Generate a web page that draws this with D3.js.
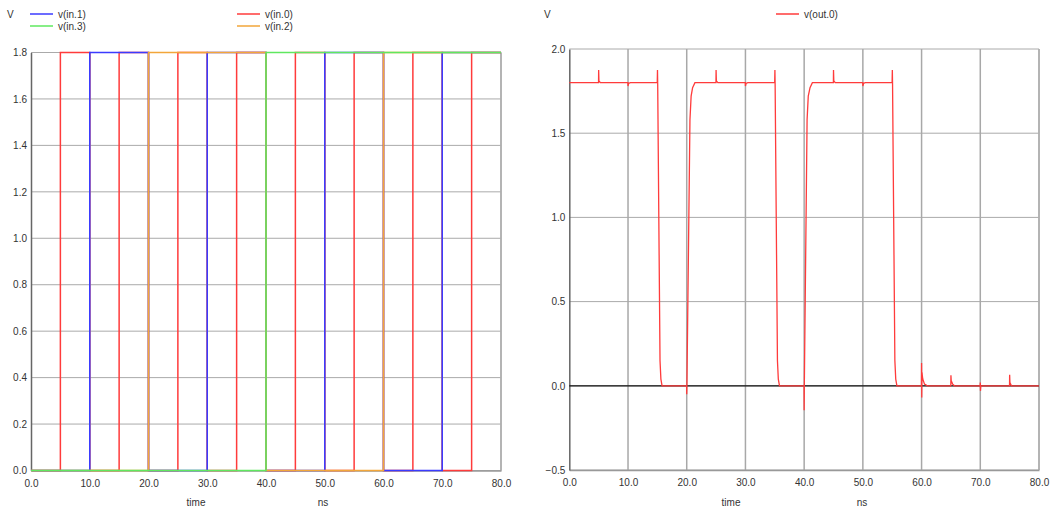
<!DOCTYPE html>
<html><head><meta charset="utf-8">
<script src="https://cdn.jsdelivr.net/npm/d3@7"></script>
<style>
html,body{margin:0;padding:0;background:#fff;}
svg text{font-family:"Liberation Sans",Arial,sans-serif;font-size:10px;fill:#333;}
</style></head><body>
<svg id="c" width="1050" height="511"></svg>
<script>
// ---- data ----
const slotTimes = [0,5,10,15,20,25,30,35,40,45,50,55,60,65,70,75,80];
const inNames = ["v(in.0)","v(in.1)","v(in.2)","v(in.3)"];
const in0 = [0,1.8,0,1.8,0,1.8,0,1.8,0,1.8,0,1.8,0,1.8,0,1.8,1.8];
const in1 = [0,0,1.8,1.8,0,0,1.8,1.8,0,0,1.8,1.8,0,0,1.8,1.8,1.8];
const in2 = [0,0,0,0,1.8,1.8,1.8,1.8,0,0,0,0,1.8,1.8,1.8,1.8,1.8];
const in3 = [0,0,0,0,0,0,0,0,1.8,1.8,1.8,1.8,1.8,1.8,1.8,1.8,1.8];
const inColors = ["#ff3b3b","#3b3bff","#f2a63a","#5fe85f"];

const outTime = [0,4.98,5.0,5.05,5.3,9.98,10.0,10.1,10.4,14.98,15.02,15.06,15.45,15.6,15.8,
  19.98,20.0,20.03,20.55,20.75,21.0,21.4,24.98,25.0,25.05,25.3,29.98,30.0,30.1,30.4,
  34.98,35.02,35.06,35.45,35.6,35.8,39.98,40.0,40.03,40.5,40.7,41.0,41.4,
  44.98,45.0,45.05,45.3,49.98,50.0,50.1,50.4,54.98,55.02,55.06,55.45,55.6,55.8,
  59.98,60.0,60.03,60.06,60.2,60.5,61.0,64.98,65.0,65.05,65.3,65.6,
  69.98,70.0,70.03,70.1,74.98,75.0,75.05,75.3,80];
const outV = [1.8,1.8,1.875,1.81,1.8,1.8,1.78,1.795,1.8,1.8,1.875,1.78,0.15,0.04,0.0,
  0,-0.05,0.0,1.58,1.72,1.77,1.8,1.8,1.875,1.81,1.8,1.8,1.78,1.795,1.8,
  1.8,1.875,1.78,0.15,0.04,0.0,0,-0.145,0.0,1.58,1.72,1.77,1.8,
  1.8,1.875,1.81,1.8,1.8,1.78,1.795,1.8,1.8,1.875,1.78,0.15,0.04,0.0,
  0,0.135,-0.07,0.08,0.04,0.01,0,0,0.062,0.03,0.01,0,
  0,0.02,-0.03,0,0,0.066,0.02,0,0];

const xTicks = [0,10,20,30,40,50,60,70,80];
const yTicksL = [0,0.2,0.4,0.6,0.8,1.0,1.2,1.4,1.6,1.8];
const yTicksR = [-0.5,0,0.5,1.0,1.5,2.0];

const svg = d3.select("#c");

function frame(g, x, y, xt, yt, vgrid) {
  const [x0,x1] = x.range(), [yb,yt0] = y.range();
  // horizontal grid
  g.append("g").selectAll("line").data(yt).join("line")
    .attr("x1",x0).attr("x2",x1).attr("y1",d=>y(d)).attr("y2",d=>y(d))
    .attr("stroke","#aaa").attr("stroke-width",1);
  if (vgrid) g.append("g").selectAll("line").data(xt.slice(1)).join("line")
    .attr("x1",d=>x(d)).attr("x2",d=>x(d)).attr("y1",yb).attr("y2",yt0)
    .attr("stroke","#a8a8a8").attr("stroke-width",1.5);
  g.append("line").attr("x1",x1).attr("x2",x1).attr("y1",yb).attr("y2",yt0)
    .attr("stroke","#b0b0b0").attr("stroke-width",1.5);
  const ax = g.append("g").attr("transform",`translate(0,${yb})`)
    .call(d3.axisBottom(x).tickValues(xt).tickSize(0).tickPadding(9).tickFormat(d3.format(".1f")));
  ax.select(".domain").attr("stroke","#999").attr("stroke-width",1.5);
  const ay = g.append("g").attr("transform",`translate(${x0},0)`)
    .call(d3.axisLeft(y).tickValues(yt).tickSize(0).tickPadding(4).tickFormat(d3.format(".1f")));
  ay.select(".domain").attr("stroke","#666").attr("stroke-width",1.5);
  g.selectAll(".tick text").attr("fill","#333").style("font-family","Liberation Sans, Arial, sans-serif").attr("font-size",10);
}

// ---- left chart ----
const xL = d3.scaleLinear().domain([0,80]).range([31,501]);
const yL = d3.scaleLinear().domain([0,1.8]).range([470.5,52.5]);
const gL = svg.append("g");
frame(gL, xL, yL, xTicks, yTicksL, true);
const stepLine = d3.line().x(d=>xL(d[0])).y(d=>yL(d[1])).curve(d3.curveStepAfter);
[in0,in1,in2,in3].forEach((vals,i)=>{
  gL.append("path").attr("d", stepLine(slotTimes.map((t,k)=>[t,vals[k]])))
    .attr("fill","none").attr("stroke",inColors[i]).attr("stroke-width",1.5);
});

// ---- right chart ----
const xR = d3.scaleLinear().domain([0,80]).range([569.3,1039]);
const yR = d3.scaleLinear().domain([-0.5,2.0]).range([470,49]);
const gR = svg.append("g");
frame(gR, xR, yR, xTicks, yTicksR, true);
gR.append("line").attr("x1",xR(0)).attr("x2",xR(80)).attr("y1",yR(0)).attr("y2",yR(0))
  .attr("stroke","#111").attr("stroke-width",1.2);
const outLine = d3.line().x((d,i)=>xR(outTime[i])).y(d=>yR(d));
gR.append("path").attr("d", outLine(outV)).attr("fill","none")
  .attr("stroke","#ff3b3b").attr("stroke-width",1.3);

// ---- legends and labels ----
function legendItem(x, y, color, label) {
  svg.append("line").attr("x1",x).attr("x2",x+23).attr("y1",y).attr("y2",y)
    .attr("stroke",color).attr("stroke-width",1.5);
  svg.append("text").attr("x",x+28).attr("y",y+3.5).text(label);
}
svg.append("text").attr("x",7).attr("y",17.5).text("V");
legendItem(30,14,inColors[1],inNames[1]);
legendItem(30,26,inColors[3],inNames[3]);
legendItem(237,14,inColors[0],inNames[0]);
legendItem(237,26,inColors[2],inNames[2]);
svg.append("text").attr("x",544).attr("y",17.5).text("V");
legendItem(776,14,"#ff3b3b","v(out.0)");

svg.append("text").attr("x",196).attr("y",506).attr("text-anchor","middle").text("time");
svg.append("text").attr("x",323).attr("y",506).attr("text-anchor","middle").text("ns");
svg.append("text").attr("x",731).attr("y",506).attr("text-anchor","middle").text("time");
svg.append("text").attr("x",862).attr("y",506).attr("text-anchor","middle").text("ns");
</script></body></html>
